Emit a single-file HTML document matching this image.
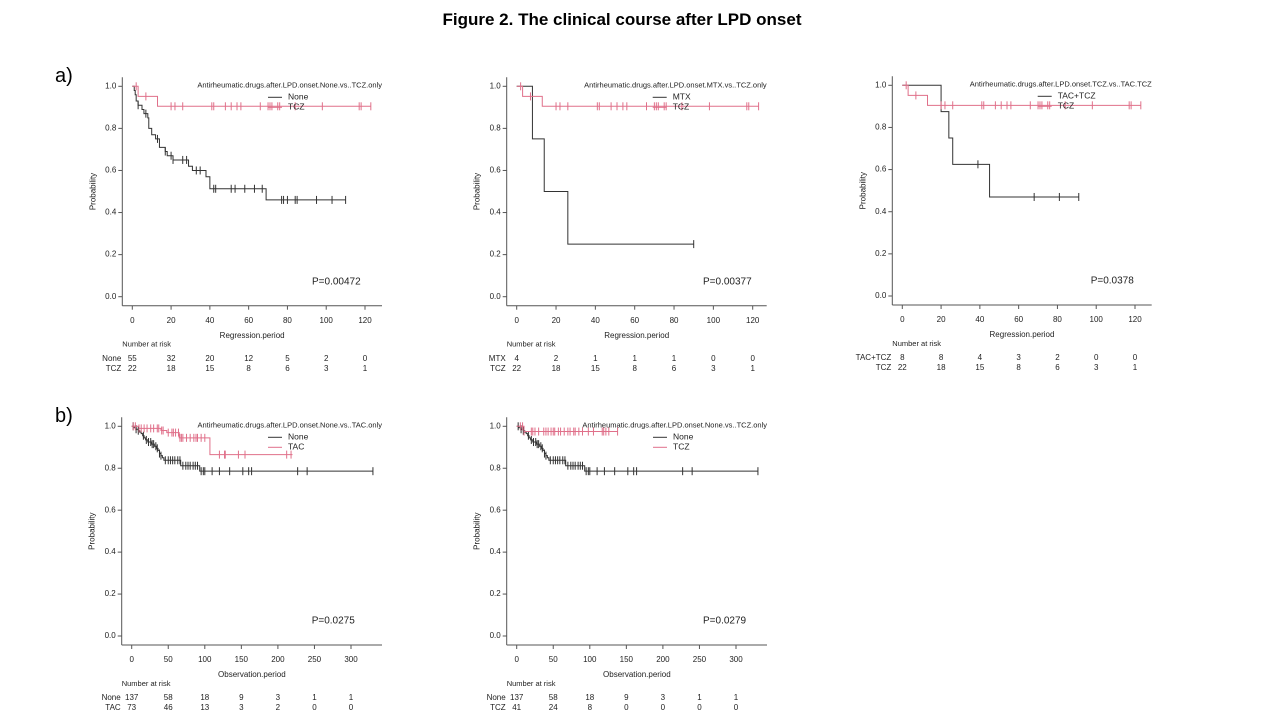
<!DOCTYPE html>
<html><head><meta charset="utf-8"><style>
body{margin:0;background:#fff}
svg{display:block;font-family:"Liberation Sans",Arial,sans-serif}
</style></head><body>
<svg id="fig" width="1280" height="720" viewBox="0 0 1280 720">
<text x="622" y="25" text-anchor="middle" font-size="17" font-weight="bold" fill="#000">Figure 2. The clinical course after LPD onset</text>
<text x="55" y="82" font-size="20" fill="#000">a)</text>
<text x="55" y="422" font-size="20" fill="#000">b)</text>
</svg>
<script>
// ---- data ----
const yTicks=[0,0.2,0.4,0.6,0.8,1.0];
const xTicksReg=[0,20,40,60,80,100,120];
const xTicksObs=[0,50,100,150,200,250,300];

const tczRegTimes=[3,13];
const tczRegSurv=[0.952,0.905];
const tczRegCens=[2,7,20,22,26,41,42,48,51,54,56,66,70,71,72,75,76,84,98,117,118,123];

const p1NoneTimes=[1,1.5,2,3,5,6,8,8.5,10,12,14,17,18,21,29,31,38,40,69];
const p1NoneSurv=[0.98,0.96,0.93,0.91,0.89,0.87,0.85,0.8,0.77,0.75,0.71,0.69,0.67,0.65,0.62,0.6,0.57,0.513,0.46];
const p1NoneCens=[3,7,13,17,20,21,26,28,33,35,42,43,51,53,58,63,67,77,78,80,84,85,95,103,110];
const p1Risk1=["55","32","20","12","5","2","0"];
const p1Risk2=["22","18","15","8","6","3","1"];

const p2MtxTimes=[8,14,26];
const p2MtxSurv=[0.75,0.5,0.25];
const p2MtxCens=[90];
const p2Risk1=["4","2","1","1","1","0","0"];

const p3TtTimes=[20,24,26,45];
const p3TtSurv=[0.875,0.75,0.625,0.47];
const p3TtCens=[39,68,81,91];
const p3Risk1=["8","8","4","3","2","0","0"];

const obsNoneTimes=[3,6,9,11,13,15,17,19,22,27,31,34,36,38,40,42,44,67,93];
const obsNoneSurv=[0.993,0.986,0.979,0.972,0.965,0.955,0.945,0.935,0.925,0.915,0.905,0.895,0.885,0.87,0.86,0.85,0.838,0.812,0.786];
const obsNoneCens=[2,6,9,16,20,23,26,28,30,33,35,38,40,46,50,53,56,59,63,66,70,74,77,80,84,87,90,95,98,100,110,120,134,152,160,164,227,240,330];
const obsNoneRisk=["137","58","18","9","3","1","1"];

const tacTimes=[10,40,48,65,107];
const tacSurv=[0.99,0.98,0.97,0.945,0.865];
const tacCens=[2,5,10,13,17,21,26,30,35,37,41,43,50,55,57,60,64,66,68,70,75,80,85,88,90,95,100,120,127,128,146,155,212,218];
const tacRisk=["73","46","13","3","2","0","0"];

const tczObsTimes=[10];
const tczObsSurv=[0.975];
const tczObsCens=[5,8,10,20,22,25,30,37,40,43,47,50,52,57,60,65,70,73,78,80,85,90,98,105,117,119,122,126,138];
const tczObsRisk=["41","24","8","0","0","0","0"];

const BLACK="#333", RED="#e0708a";
const NS="http://www.w3.org/2000/svg";
const svg=document.getElementById('fig');
function mk(tag,attrs,parent){const e=document.createElementNS(NS,tag);for(const k in attrs)e.setAttribute(k,attrs[k]);(parent||svg).appendChild(e);return e;}
function txt(x,y,s,size,anchor,parent){const t=mk('text',{x:x,y:y,'font-size':size,'text-anchor':anchor||'start',fill:'#222','dominant-baseline':'middle'},parent);t.textContent=s;return t;}

function survAt(times,surv,t){let s=1;for(let i=0;i<times.length;i++){if(times[i]<=t)s=surv[i];}return s;}

function panel(cfg){
  const g=mk('g',{});
  
  
  const X=v=>cfg.x0+(v/cfg.xmax)*(cfg.x1-cfg.x0);
  const Y=v=>cfg.y0+(cfg.y1-cfg.y0)*v;
  const B=cfg.y0+9, Lx=cfg.x0-10, R=cfg.right;
  // axes
  const ya=mk('line',{x1:Lx,y1:cfg.y1-9,x2:Lx,y2:B,stroke:'#555','stroke-width':1},g);
  
  
  const xa=mk('line',{x1:Lx,y1:B,x2:R,y2:B,stroke:'#555','stroke-width':1},g);
  
  
  yTicks.forEach(v=>{
    mk('line',{x1:Lx-4,y1:Y(v),x2:Lx,y2:Y(v),stroke:'#555'},g);
    const t=txt(Lx-6,Y(v),v.toFixed(1),8,'end',g);
    
    
  });
  cfg.xt.forEach((v,i)=>{
    mk('line',{x1:X(v),y1:B,x2:X(v),y2:B+4,stroke:'#555'},g);
    const t=txt(X(v),B+15,String(v),8,'middle',g);
    
    
    cfg.rows.forEach((r,j)=>{
      const c=txt(X(v),B+53+j*10,r.risk[i],8,'middle',g);
      
      
    });
  });
  cfg.rows.forEach((r,j)=>{
    const c=txt(Lx-1,B+53+j*10,r.label,8,'end',g);
    
    
  });
  const at=txt((Lx+R)/2,B+30,cfg.xlabel,8,'middle',g);
  
  
  const nr=txt(Lx,B+39,'Number at risk',7.5,'start',g);
  
  
  const yt=mk('text',{x:0,y:0,'font-size':8,'text-anchor':'middle',fill:'#222',transform:`translate(${Lx-27},${(cfg.y0+cfg.y1)/2}) rotate(-90)`},g);
  yt.textContent='Probability';
  
  
  // curves
  cfg.series.forEach(s=>{
    let d=`M${X(0)},${Y(1)}`;let cur=1;
    s.times.forEach((t,i)=>{d+=` H${X(t)} V${Y(s.surv[i])}`;cur=s.surv[i];});
    d+=` H${X(s.end)}`;
    const p=mk('path',{d:d,fill:'none',stroke:s.color,'stroke-width':1},g);
    
    
    s.cens.forEach(c=>{
      const yy=Y(survAt(s.times,s.surv,c));
      const m=mk('line',{x1:X(c),y1:yy-4,x2:X(c),y2:yy+4,stroke:s.color,'stroke-width':1},g);
      
      
    });
  });
  // legend
  const tt=txt(R,cfg.y1-1,cfg.title,7.5,'end',g);
  
  
  cfg.series.forEach((s,i)=>{
    const ly=cfg.y1+11+i*10;
    mk('line',{x1:R-114,y1:ly,x2:R-100,y2:ly,stroke:s.color},g);
    const le=txt(R-94,ly,s.label,8.5,'start',g);
    
    
  });
  const pv=txt(cfg.px,cfg.y0-15,cfg.p,10,'start',g);
  
  
}

panel({name:'panel-none-vs-tcz-regression',x0:132.3,x1:365,xmax:120,y1:86.3,y0:296.7,right:382,xt:xTicksReg,xlabel:'Regression.period',
 title:'Antirheumatic.drugs.after.LPD.onset.None.vs..TCZ.only',p:'P=0.00472',px:312,
 rows:[{label:'None',risk:p1Risk1},{label:'TCZ',risk:p1Risk2}],
 series:[{name:'none',label:'None',color:BLACK,times:p1NoneTimes,surv:p1NoneSurv,cens:p1NoneCens,end:110},
         {name:'tcz',label:'TCZ',color:RED,times:tczRegTimes,surv:tczRegSurv,cens:tczRegCens,end:123}]});
panel({name:'panel-mtx-vs-tcz-regression',x0:516.7,x1:752.7,xmax:120,y1:86.3,y0:296.7,right:766.7,xt:xTicksReg,xlabel:'Regression.period',
 title:'Antirheumatic.drugs.after.LPD.onset.MTX.vs..TCZ.only',p:'P=0.00377',px:703,
 rows:[{label:'MTX',risk:p2Risk1},{label:'TCZ',risk:p1Risk2}],
 series:[{name:'mtx',label:'MTX',color:BLACK,times:p2MtxTimes,surv:p2MtxSurv,cens:p2MtxCens,end:90},
         {name:'tcz',label:'TCZ',color:RED,times:tczRegTimes,surv:tczRegSurv,cens:tczRegCens,end:123}]});
panel({name:'panel-tactcz-vs-tcz-regression',x0:902.3,x1:1135,xmax:120,y1:85.3,y0:296,right:1151.7,xt:xTicksReg,xlabel:'Regression.period',
 title:'Antirheumatic.drugs.after.LPD.onset.TCZ.vs..TAC.TCZ',p:'P=0.0378',px:1090.7,
 rows:[{label:'TAC+TCZ',risk:p3Risk1},{label:'TCZ',risk:p1Risk2}],
 series:[{name:'tac-tcz',label:'TAC+TCZ',color:BLACK,times:p3TtTimes,surv:p3TtSurv,cens:p3TtCens,end:91},
         {name:'tcz',label:'TCZ',color:RED,times:tczRegTimes,surv:tczRegSurv,cens:tczRegCens,end:123}]});
panel({name:'panel-none-vs-tac-observation',x0:131.7,x1:351,xmax:300,y1:426.3,y0:636,right:382,xt:xTicksObs,xlabel:'Observation.period',
 title:'Antirheumatic.drugs.after.LPD.onset.None.vs..TAC.only',p:'P=0.0275',px:311.7,
 rows:[{label:'None',risk:obsNoneRisk},{label:'TAC',risk:tacRisk}],
 series:[{name:'none',label:'None',color:BLACK,times:obsNoneTimes,surv:obsNoneSurv,cens:obsNoneCens,end:330},
         {name:'tac',label:'TAC',color:RED,times:tacTimes,surv:tacSurv,cens:tacCens,end:220}]});
panel({name:'panel-none-vs-tcz-observation',x0:516.7,x1:736,xmax:300,y1:426.3,y0:636,right:767,xt:xTicksObs,xlabel:'Observation.period',
 title:'Antirheumatic.drugs.after.LPD.onset.None.vs..TCZ.only',p:'P=0.0279',px:703,
 rows:[{label:'None',risk:obsNoneRisk},{label:'TCZ',risk:tczObsRisk}],
 series:[{name:'none',label:'None',color:BLACK,times:obsNoneTimes,surv:obsNoneSurv,cens:obsNoneCens,end:330},
         {name:'tcz',label:'TCZ',color:RED,times:tczObsTimes,surv:tczObsSurv,cens:tczObsCens,end:138}]});
</script>
</body></html>
